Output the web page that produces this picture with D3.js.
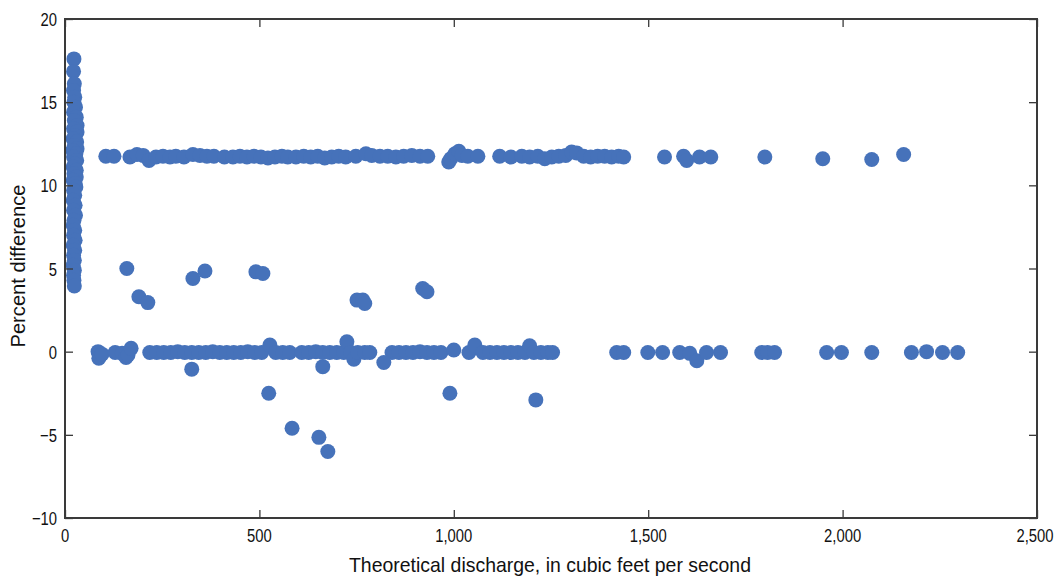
<!DOCTYPE html>
<html>
<head>
<meta charset="utf-8">
<script src="https://cdn.jsdelivr.net/npm/d3@7"></script>
<style>
  html, body { margin: 0; padding: 0; background: #fff; }
  svg { display: block; }
  .lbl { font-family: "Liberation Sans", Arial, sans-serif; fill: #111; }
</style>
</head>
<body>
<svg id="chart" width="1055" height="576"></svg>
<script>
// Tick values for both axes
const xTicks = [0, 500, 1000, 1500, 2000, 2500];
const yTicks = [-10, -5, 0, 5, 10, 15, 20];

// [theoretical discharge (ft3/s), percent difference]
// Low-flow measurements clustered near zero discharge
const lowFlow = [
  [23,17.6],[22,16.85],[24,16.1],[22,15.7],[25,15.3],[23,15.0],[27,14.7],[22,14.4],
  [29,14.1],[24,13.9],[31,13.6],[22,13.4],[31,13.2],[26,13.0],[21,12.8],[30,12.6],
  [24,12.4],[31,12.2],[20,12.1],[28,11.9],[22,11.7],[30,11.5],[25,11.3],[21,11.1],
  [29,10.9],[23,10.7],[29,10.5],[21,10.3],[26,10.1],[28,9.9],[22,9.7],[25,9.4],
  [21,9.1],[26,8.8],[22,8.5],[27,8.2],[23,7.9],[21,7.6],[25,7.3],[22,7.0],
  [26,6.7],[21,6.4],[25,6.1],[22,5.8],[24,5.5],[21,5.2],[24,4.9],[22,4.6],
  [23,4.3],[24,3.95]
];

// Band of differences near 11.7 percent
const upperBand = [
  [105,11.75],[126,11.75],[167,11.7],[185,11.85],[201,11.8],[216,11.5],[234,11.7],[252,11.75],
  [270,11.7],[285,11.75],[306,11.7],[329,11.85],[347,11.8],[365,11.75],[383,11.75],[410,11.7],
  [432,11.7],[450,11.75],
  [468,11.7],[486,11.75],[504,11.7],[522,11.65],[540,11.7],[558,11.75],[573,11.7],[594,11.7],[614,11.75],
  [632,11.7],[650,11.75],[668,11.65],[686,11.7],[704,11.75],[722,11.7],[748,11.75],[774,11.9],[789,11.8],
  [810,11.75],[830,11.75],[851,11.7],[871,11.75],[892,11.8],[913,11.75],[933,11.75],[987,11.4],
  [992,11.6],[1003,11.9],[1013,12.05],[1021,11.8],[1036,11.75],[1062,11.75],[1118,11.75],[1147,11.7],
  [1175,11.75],[1195,11.7],[1216,11.75],[1234,11.6],[1252,11.7],[1270,11.75],[1288,11.8],[1303,12.0],
  [1316,11.95],[1334,11.75],[1352,11.7],[1370,11.75],[1388,11.75],[1406,11.7],[1424,11.75],[1437,11.7],
  [1542,11.7],[1591,11.75],[1599,11.5],[1632,11.7],[1661,11.7],[1800,11.7],[1949,11.6],[2075,11.55],
  [2157,11.85]
];

// Band of differences near zero
const zeroBand = [
  [85,0.0],[87,-0.4],[95,-0.15],[129,-0.05],[147,-0.1],[157,-0.35],[162,-0.2],[170,0.2],
  [218,-0.05],[236,-0.05],[254,-0.05],[272,-0.05],[290,0.0],[308,-0.05],[326,-0.05],[344,-0.05],
  [362,-0.05],[380,0.0],[398,-0.05],[416,-0.05],[434,-0.05],[452,-0.05],[470,0.0],[488,-0.05],
  [506,-0.05],[527,0.4],[542,-0.05],[560,-0.05],[578,-0.05],[609,-0.05],[627,-0.05],[645,0.0],
  [663,-0.05],[681,-0.05],[699,-0.05],[717,-0.05],[725,0.6],[735,-0.05],[743,-0.45],[753,-0.05],
  [771,-0.05],[784,-0.05],[841,-0.05],[859,-0.05],[877,-0.05],[895,-0.05],[913,0.0],[931,-0.05],
  [949,-0.05],[967,-0.05],[1000,0.1],[1039,-0.05],[1054,0.4],[1075,-0.05],[1093,-0.05],[1111,-0.05],
  [1129,-0.05],[1147,-0.05],[1165,-0.05],[1183,-0.05],[1195,0.35],[1206,-0.05],[1224,-0.05],[1242,-0.05],
  [1254,-0.05],[1419,-0.05],[1437,-0.05],[1499,-0.05],[1537,-0.05],[1581,-0.05],[1607,-0.1],[1625,-0.55],
  [1650,-0.05],[1686,-0.05],[1792,-0.05],[1807,-0.05],[1825,-0.05],[1959,-0.05],[1997,-0.05],[2075,-0.05],
  [2177,-0.05],[2216,0.0],[2257,-0.05],[2296,-0.05]
];

// Measurements between and below the two bands
const scattered = [
  [159,5.0],[190,3.3],[213,2.95],[329,4.4],[360,4.85],[491,4.8],[509,4.7],[751,3.1],
  [766,3.1],[771,2.9],[920,3.8],[931,3.6],[326,-1.05],[524,-2.5],[584,-4.6],[653,-5.15],
  [676,-6.0],[663,-0.9],[820,-0.65],[990,-2.5],[1211,-2.9]
];

const svg = d3.select("#chart");
const x = d3.scaleLinear().domain([0, 2500]).range([65, 1037]);
const y = d3.scaleLinear().domain([-10, 20]).range([518, 19]);

const dotColor = "#4672BA";
const allPoints = [].concat(lowFlow, upperBand, zeroBand, scattered);

svg.append("g")
  .selectAll("circle")
  .data(allPoints)
  .join("circle")
  .attr("cx", d => x(d[0]))
  .attr("cy", d => y(d[1]))
  .attr("r", 7.5)
  .attr("fill", dotColor);

// Frame and inward ticks
const axisColor = "#3a3a3a";
const fmtX = d3.format(",");
const fmtY = d3.format("");
const narrow = 0.78;   // horizontal squeeze for the condensed lettering

function styleAxis(g) {
  g.select(".domain").remove();
  g.selectAll(".tick line").attr("stroke", axisColor).attr("stroke-width", 1.3);
  g.selectAll(".tick text").remove();
}

svg.append("g").attr("transform", `translate(${x(0)},0)`)
  .call(d3.axisLeft(y).tickValues(yTicks).tickSizeInner(-8).tickSizeOuter(0)).call(styleAxis);
svg.append("g").attr("transform", `translate(${x(2500)},0)`)
  .call(d3.axisRight(y).tickValues(yTicks).tickSizeInner(-8).tickSizeOuter(0)).call(styleAxis);
svg.append("g").attr("transform", `translate(0,${y(-10)})`)
  .call(d3.axisBottom(x).tickValues(xTicks).tickSizeInner(-8).tickSizeOuter(0)).call(styleAxis);
svg.append("g").attr("transform", `translate(0,${y(20)})`)
  .call(d3.axisTop(x).tickValues(xTicks).tickSizeInner(-8).tickSizeOuter(0)).call(styleAxis);

svg.append("rect")
  .attr("x", x(0)).attr("y", y(20))
  .attr("width", x(2500) - x(0)).attr("height", y(-10) - y(20))
  .attr("fill", "none").attr("stroke", axisColor).attr("stroke-width", 2);

// Tick labels
svg.append("g").selectAll("text")
  .data(yTicks).join("text")
  .attr("class", "lbl")
  .attr("transform", d => `translate(57,${y(d) + 7}) scale(${narrow},1)`)
  .attr("text-anchor", "end")
  .attr("font-size", 19)
  .text(d => fmtY(d));

svg.append("g").selectAll("text")
  .data(xTicks).join("text")
  .attr("class", "lbl")
  .attr("transform", d => `translate(${Math.min(x(d), 1035)},${542}) scale(${narrow},1)`)
  .attr("text-anchor", "middle")
  .attr("font-size", 19)
  .text(d => fmtX(d));

// Axis titles
svg.append("text")
  .attr("class", "lbl")
  .attr("x", 550).attr("y", 572)
  .attr("text-anchor", "middle")
  .attr("font-size", 21)
  .attr("textLength", 402)
  .attr("lengthAdjust", "spacingAndGlyphs")
  .text("Theoretical discharge, in cubic feet per second");

svg.append("text")
  .attr("class", "lbl")
  .attr("transform", "translate(25,266) rotate(-90)")
  .attr("text-anchor", "middle")
  .attr("font-size", 21)
  .attr("textLength", 163)
  .attr("lengthAdjust", "spacingAndGlyphs")
  .text("Percent difference");
</script>
</body>
</html>
